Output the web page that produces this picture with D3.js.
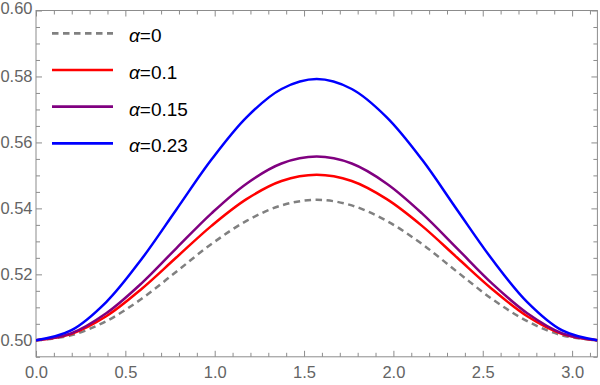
<!DOCTYPE html>
<html>
<head>
<meta charset="utf-8">
<script src="https://cdn.jsdelivr.net/npm/d3@7"></script>
<style>
  body { margin: 0; background: #fff; }
  text { font-family: "Liberation Sans", Arial, sans-serif; }
</style>
</head>
<body>
<div id="chart"></div>
<script>
// sample points (x = k*pi/16)
var xs = [0, 0.196, 0.393, 0.589, 0.785, 0.982, 1.178, 1.374, 1.571,
          1.767, 1.963, 2.160, 2.356, 2.553, 2.749, 2.945, 3.1416];
var alpha0 = [0.5000, 0.5015, 0.5058, 0.5125, 0.5208, 0.5292, 0.5362, 0.5409, 0.5426,
              0.5409, 0.5362, 0.5292, 0.5208, 0.5125, 0.5058, 0.5015, 0.5000];
var alpha01 = [0.5000, 0.5019, 0.5073, 0.5155, 0.5251, 0.5347, 0.5428, 0.5483, 0.5502,
               0.5483, 0.5428, 0.5347, 0.5251, 0.5155, 0.5073, 0.5019, 0.5000];
var alpha015 = [0.5000, 0.5021, 0.5082, 0.5172, 0.5279, 0.5385, 0.5475, 0.5536, 0.5557,
                0.5536, 0.5475, 0.5385, 0.5279, 0.5172, 0.5082, 0.5021, 0.5000];
var alpha023 = [0.5000, 0.5030, 0.5116, 0.5245, 0.5396, 0.5548, 0.5676, 0.5762, 0.5792,
                0.5762, 0.5676, 0.5548, 0.5396, 0.5245, 0.5116, 0.5030, 0.5000];
var legendLabels = ["0", "0.1", "0.15", "0.23"];
var xTicks = [0, 0.5, 1.0, 1.5, 2.0, 2.5, 3.0];
var yTicks = [0.50, 0.52, 0.54, 0.56, 0.58, 0.60];

var series = [
  {vals: alpha0, color: "#808080", dash: "6.5,4.5"},
  {vals: alpha01, color: "#ff0000", dash: null},
  {vals: alpha015, color: "#800080", dash: null},
  {vals: alpha023, color: "#0000ff", dash: null}
];

var W = 600, H = 385;
var pLeft = 36, pRight = 597.4, pTop = 10.5, pBottom = 356.8;

var svg = d3.select("#chart").append("svg")
  .attr("width", W).attr("height", H);

var xScale = d3.scaleLinear().domain([0, Math.PI]).range([pLeft, pRight]);
var yScale = d3.scaleLinear().domain([0.495, 0.60]).range([pBottom, pTop]);

var frameColor = "#8c8c8c", labelColor = "#646464";

// minor ticks
var xMinor = d3.range(0, 3.15, 0.1).filter(function(v) { return Math.abs(v * 2 - Math.round(v * 2)) > 1e-6; });
var yMinor = d3.range(0.495, 0.6001, 0.005).filter(function(v) { return Math.abs(v * 50 - Math.round(v * 50)) > 1e-6; });

function styleAxis(g) {
  g.attr("font-size", null).attr("font-family", null);
  g.select(".domain").remove();
  g.selectAll("line").attr("stroke", frameColor);
  g.selectAll("text").attr("fill", labelColor).style("font-size", "16.5px");
}

// bottom
svg.append("g").attr("transform", "translate(0," + pBottom + ")")
  .call(d3.axisBottom(xScale).tickValues(xTicks).tickSize(-6).tickPadding(9.5).tickFormat(d3.format(".1f")))
  .call(styleAxis);
svg.append("g").attr("transform", "translate(0," + pBottom + ")")
  .call(d3.axisBottom(xScale).tickValues(xMinor).tickSize(-4).tickFormat(""))
  .call(styleAxis);
// top
svg.append("g").attr("transform", "translate(0," + pTop + ")")
  .call(d3.axisTop(xScale).tickValues(xTicks).tickSize(-6).tickFormat(""))
  .call(styleAxis);
svg.append("g").attr("transform", "translate(0," + pTop + ")")
  .call(d3.axisTop(xScale).tickValues(xMinor).tickSize(-4).tickFormat(""))
  .call(styleAxis);
// left
var yAx = svg.append("g").attr("transform", "translate(" + pLeft + ",0)")
  .call(d3.axisLeft(yScale).tickValues(yTicks).tickSize(-6).tickPadding(3.5).tickFormat(d3.format(".2f")))
  .call(styleAxis);
yAx.selectAll(".tick text").filter(function(d) { return d === 0.60; }).attr("dy", "0.19em");
svg.append("g").attr("transform", "translate(" + pLeft + ",0)")
  .call(d3.axisLeft(yScale).tickValues(yMinor).tickSize(-4).tickFormat(""))
  .call(styleAxis);
// right
svg.append("g").attr("transform", "translate(" + pRight + ",0)")
  .call(d3.axisRight(yScale).tickValues(yTicks).tickSize(-6).tickFormat(""))
  .call(styleAxis);
svg.append("g").attr("transform", "translate(" + pRight + ",0)")
  .call(d3.axisRight(yScale).tickValues(yMinor).tickSize(-4).tickFormat(""))
  .call(styleAxis);

// frame
svg.append("rect")
  .attr("x", pLeft).attr("y", pTop)
  .attr("width", pRight - pLeft).attr("height", pBottom - pTop)
  .attr("fill", "none").attr("stroke", frameColor).attr("stroke-width", 1);

svg.append("clipPath").attr("id", "clip").append("rect")
  .attr("x", pLeft).attr("y", pTop).attr("width", pRight - pLeft).attr("height", pBottom - pTop);

var line = d3.line()
  .x(function(d, i) { return xScale(xs[i]); })
  .y(function(d) { return yScale(d); })
  .curve(d3.curveCatmullRom);

series.forEach(function(s) {
  svg.append("path")
    .attr("d", line(s.vals))
    .attr("clip-path", "url(#clip)")
    .attr("fill", "none")
    .attr("stroke", s.color)
    .attr("stroke-width", 2.5)
    .attr("stroke-dasharray", s.dash);
});

// legend
var lg = svg.append("g");
series.forEach(function(s, i) {
  var ly = 33.3 + i * 36.7;
  lg.append("line")
    .attr("x1", 52).attr("x2", 113).attr("y1", ly).attr("y2", ly)
    .attr("stroke", s.color).attr("stroke-width", 2.7)
    .attr("stroke-dasharray", s.dash);
  var t = lg.append("text").attr("x", 129).attr("y", ly + 8.8)
    .style("font-size", "19px").attr("fill", "#000");
  t.append("tspan").style("font-style", "italic").text("\u03b1");
  t.append("tspan").text("=" + legendLabels[i]);
});
</script>
</body>
</html>
